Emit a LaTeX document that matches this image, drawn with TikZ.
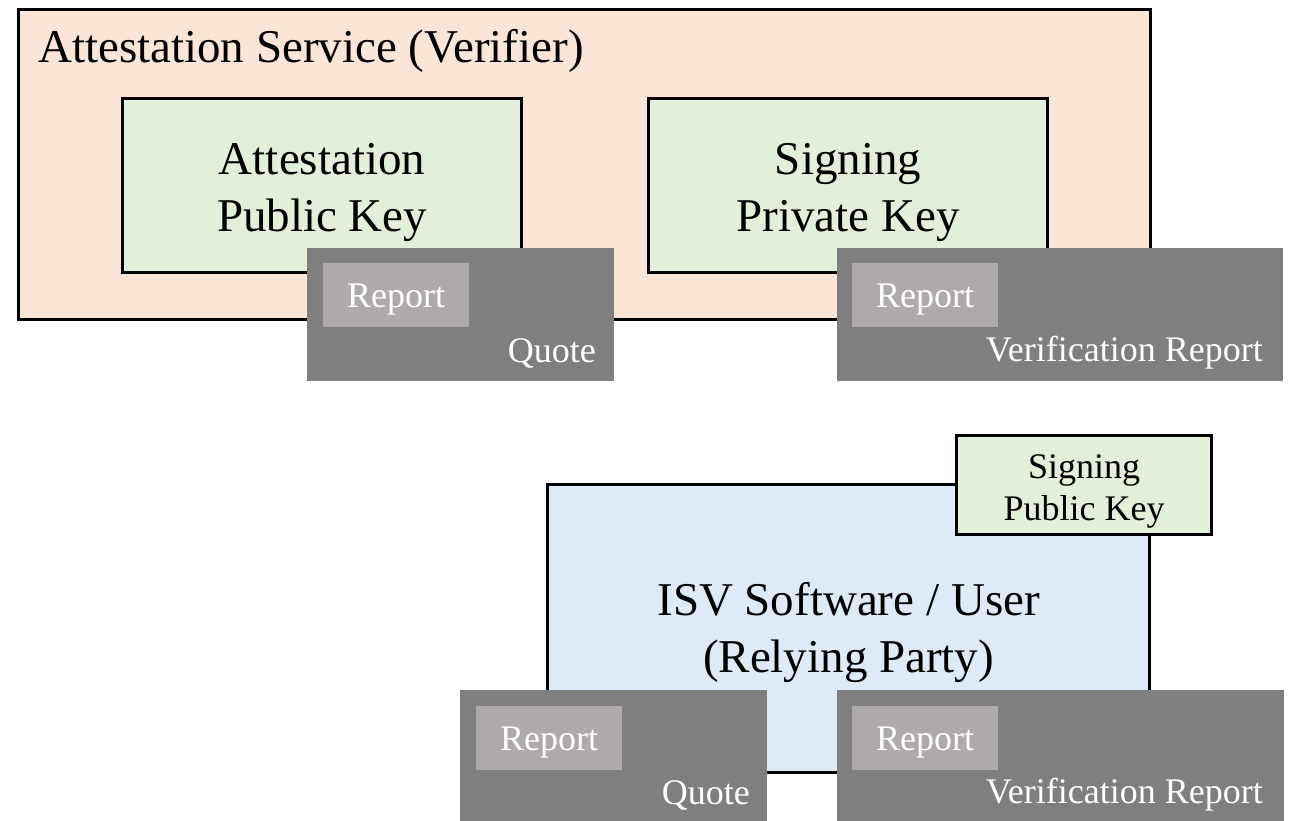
\documentclass[tikz,border=0pt]{standalone}
\usepackage{fontspec}
\usetikzlibrary{calc}
\setmainfont{Liberation Serif}
\definecolor{peach}{HTML}{FBE5D6}
\definecolor{keygreen}{HTML}{E2F0D9}
\definecolor{partyblue}{HTML}{DEEBF7}
\definecolor{msgdark}{HTML}{7F7F7F}
\definecolor{rptgray}{HTML}{AEAAAA}
\tikzset{
  big/.style={font=\fontsize{47}{57}\selectfont},
  small/.style={font=\fontsize{36}{41}\selectfont},
  box/.style={draw=black, line width=3.2pt, anchor=north west, inner sep=0pt},
  keybox/.style={box, fill=keygreen},
  boxtext/.style={inner sep=0pt, align=center},
  msgbox/.style={fill=msgdark, anchor=north west, inner sep=0pt},
  rptbox/.style={fill=rptgray, anchor=north west, inner sep=0pt, text=white, small,
                 text height=24pt, text depth=0pt,
                 minimum width=146pt, minimum height=64pt},
  msglabel/.style={anchor=base east, text=white, small, inner sep=0pt},
}
\begin{document}
\begin{tikzpicture}[x=1pt,y=-1pt]
\useasboundingbox (0,0) rectangle (1291,821);

% verifier side
\node[box, fill=peach, minimum width=1132pt, minimum height=310pt] (verifier) at (17,8) {};
\node[big, anchor=base west, inner sep=0pt] (vtitle) at (38,63) {Attestation Service (Verifier)};
\node[keybox, minimum width=399pt, minimum height=174pt] (attpub) at (121,97) {};
\node[boxtext, big] (attpubtxt) at ($(attpub.center)+(0,7)$) {Attestation\\Public Key};
\node[keybox, minimum width=399pt, minimum height=174pt] (signpriv) at (647,97) {};
\node[boxtext, big] (signprivtxt) at ($(signpriv.center)+(0,7)$) {Signing\\Private Key};

% messages produced by the verifier
\node[msgbox, minimum width=307pt, minimum height=133pt] (quoteA) at (307,248) {};
\node[rptbox] (rptA) at (323,263) {Report};
\node[msglabel] (quoteAlbl) at (596,362) {Quote};

\node[msgbox, minimum width=446pt, minimum height=133pt] (vrA) at (837,248) {};
\node[rptbox] (rptB) at (852,263) {Report};
\node[msglabel] (vrAlbl) at (1263,361) {Verification Report};

% relying party side
\node[box, fill=partyblue, minimum width=602pt, minimum height=288pt] (isv) at (546,483) {};
\node[boxtext, big] (isvtxt) at ($(isv.center)+(0,4)$) {ISV Software / User\\(Relying Party)};
\node[keybox, minimum width=255pt, minimum height=99pt] (signpub) at (955,434) {};
\node[boxtext, font=\fontsize{36}{42}\selectfont] (signpubtxt) at ($(signpub.center)+(0,6)$) {Signing\\Public Key};

% messages received by the relying party
\node[msgbox, minimum width=307pt, minimum height=131pt] (quoteB) at (460,690) {};
\node[rptbox] (rptC) at (476,706) {Report};
\node[msglabel] (quoteBlbl) at (750,804) {Quote};

\node[msgbox, minimum width=447pt, minimum height=131pt] (vrB) at (837,690) {};
\node[rptbox] (rptD) at (852,706) {Report};
\node[msglabel] (vrBlbl) at (1263,803) {Verification Report};
\end{tikzpicture}
\end{document}
